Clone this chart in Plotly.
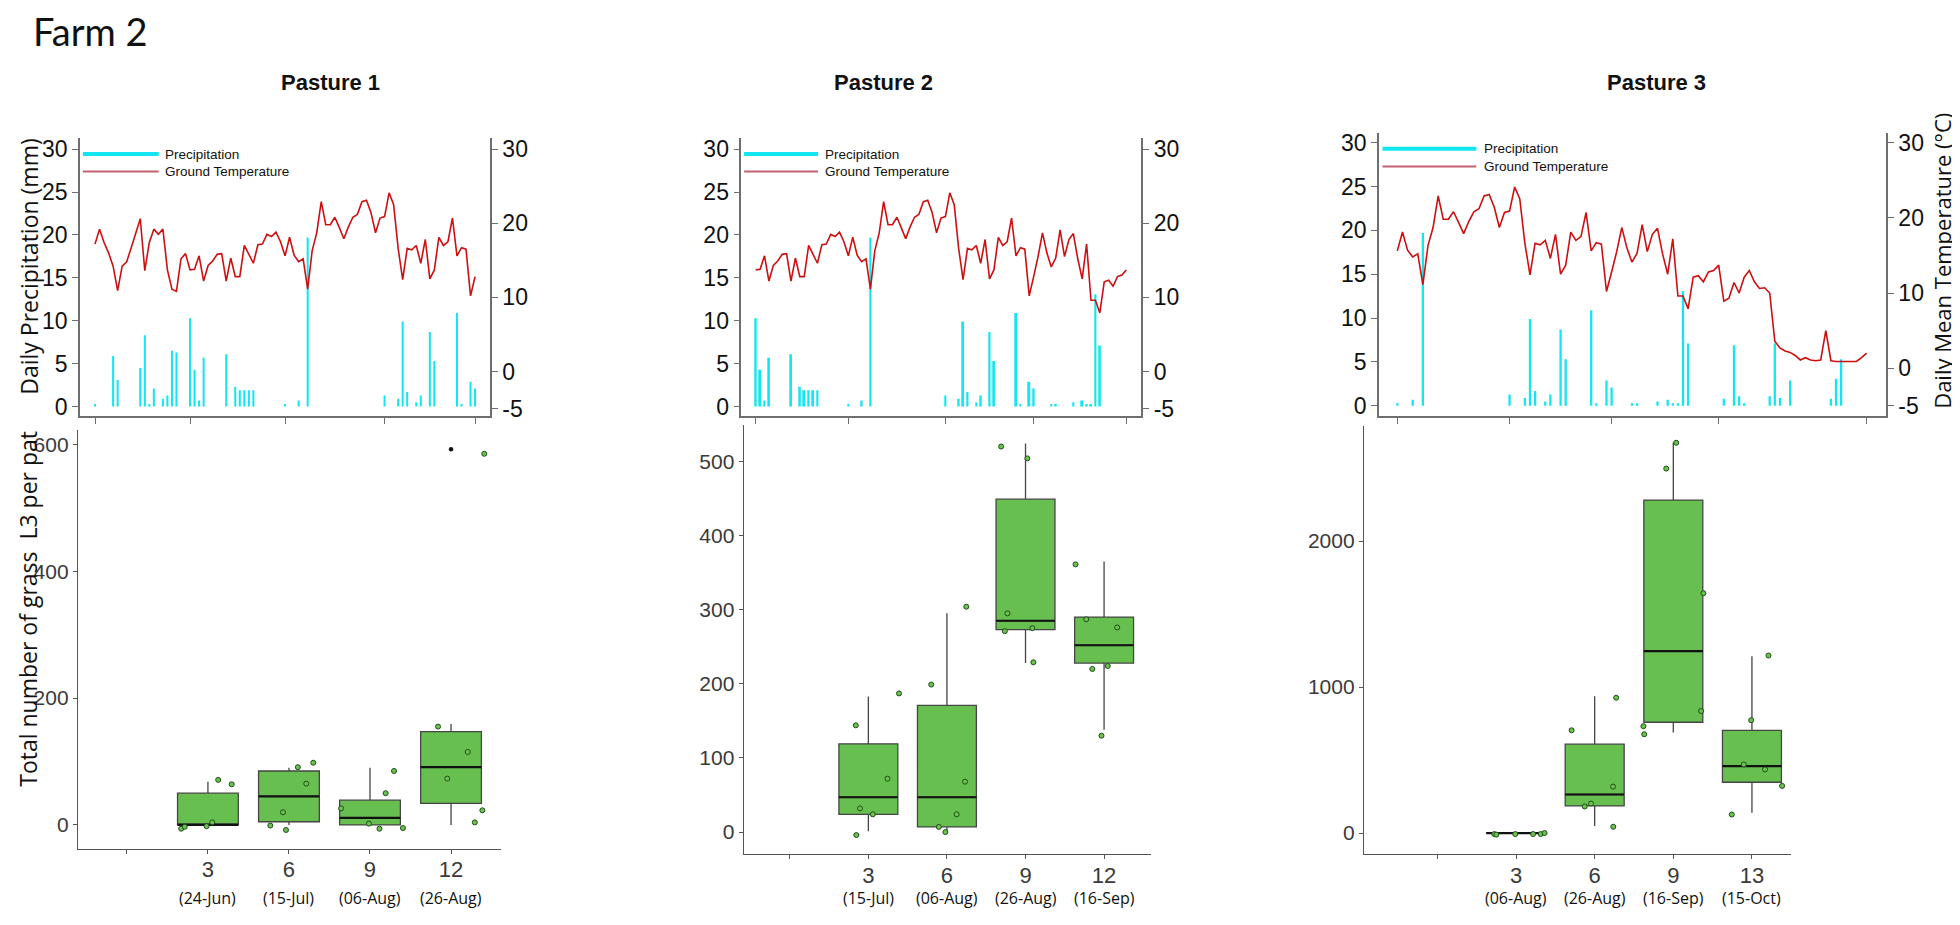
import plotly.graph_objects as go

# ---------------- data ----------------
# daily series, day 0 = 03-Jun
ground_temp_c = [17.2, 19.2, 17.4, 16.0, 14.2, 10.9, 14.2, 14.8, 16.7, 18.7,
                 20.6, 13.6, 17.4, 19.2, 18.5, 19.2, 13.7, 11.1, 10.8, 15.2,
                 15.9, 13.7, 13.8, 15.6, 12.2, 14.3, 14.9, 15.8, 15.9, 12.2,
                 15.3, 12.8, 12.8, 17.0, 15.9, 14.6, 17.1, 17.2, 18.5, 18.2,
                 18.8, 17.5, 15.6, 18.1, 15.7, 14.8, 15.2, 11.1, 16.3, 18.7,
                 22.9, 19.8, 19.8, 20.8, 19.4, 17.9, 19.5, 20.8, 21.2, 22.9,
                 23.1, 21.4, 18.7, 20.7, 20.9, 24.1, 22.5, 16.6, 12.4, 16.6,
                 16.4, 17.0, 14.6, 17.8, 12.5, 13.7, 18.1, 17.0, 17.5, 20.7,
                 15.6, 16.7, 16.5, 10.2, 12.8, 15.5, 18.7, 16.0, 14.1, 15.3,
                 19.1, 15.5, 17.8, 18.6, 15.2, 12.5, 17.2, 9.6, 9.6, 7.9,
                 12.1, 12.3, 11.5, 12.8, 13.0, 13.7, 8.9, 9.3, 11.4, 10.0,
                 12.1, 13.0, 11.5, 10.6, 10.7, 10.0, 3.6, 2.7, 2.3, 2.1,
                 1.7, 1.1, 1.4, 1.1, 1.0, 1.1, 5.0, 1.0, 0.9, 0.9,
                 0.9, 0.8, 0.9, 1.4, 2.0]

precip_day = [0, 4, 5, 10, 11, 12, 13, 15, 16, 17, 18, 21, 22, 23, 24, 29, 31, 32, 33, 34,
              35, 42, 45, 47, 64, 67, 68, 69, 71, 72, 74, 75, 80, 81, 83, 84, 88, 89, 93, 95,
              96, 97, 98, 99, 106, 108, 109, 110, 115, 116, 117, 119, 127, 128, 129]
precip_mm = [0.3, 5.9, 3.1, 4.5, 8.3, 0.3, 2.1, 0.9, 1.3, 6.5, 6.3, 10.3, 4.3, 0.7, 5.7, 6.1, 2.3, 1.9, 1.9, 1.9,
             1.9, 0.3, 0.7, 19.7, 1.3, 0.9, 9.9, 1.7, 0.5, 1.3, 8.7, 5.3, 10.9, 0.3, 2.9, 2.1, 0.3, 0.3, 0.5, 0.7,
             0.3, 0.3, 13.1, 7.1, 0.8, 6.9, 1.1, 0.3, 1.1, 7.1, 0.9, 2.9, 0.8, 3.1, 5.3]

pasture_names = ["Pasture 1", "Pasture 2", "Pasture 3"]
window_first_day = [0, 21, 42]
window_last_day = [84, 105, 134]
sampling_days = [[0, 21, 42, 64, 84], [21, 42, 64, 84, 105], [42, 64, 84, 105, 134]]

box_pos = [3, 6, 9, 12]
week_labels = [["3", "6", "9", "12"], ["3", "6", "9", "12"], ["3", "6", "9", "13"]]
date_labels = [["(24-Jun)", "(15-Jul)", "(06-Aug)", "(26-Aug)"],
               ["(15-Jul)", "(06-Aug)", "(26-Aug)", "(16-Sep)"],
               ["(06-Aug)", "(26-Aug)", "(16-Sep)", "(15-Oct)"]]

l3_q1 = [[0, 5, 0, 34], [24, 7, 273, 228], [0, 186, 759, 348]]
l3_median = [[0, 45, 11, 91], [47, 47, 285, 252], [0, 264, 1247, 459]]
l3_q3 = [[50, 85, 39, 147], [119, 171, 449, 290], [3, 609, 2281, 704]]
l3_low = [[0, 0, 0, 0], [1, 1, 228, 138], [0, 48, 688, 139]]
l3_high = [[68, 90, 90, 159], [183, 295, 524, 365], [3, 938, 2676, 1211]]

# jittered individual pats
pat_x = [
    [2.01, 2.14, 2.95, 3.16, 3.38, 3.88, 5.31, 5.78, 5.89, 6.33, 6.64, 6.90,
     7.93, 8.96, 9.35, 9.58, 9.89, 10.22, 11.52, 11.86, 12.62, 12.88, 13.16, 13.23],
    [2.52, 2.54, 2.68, 3.17, 3.73, 4.17, 5.40, 5.69, 5.94, 6.37, 6.69, 6.74,
     8.07, 8.21, 8.31, 9.07, 9.26, 9.30, 10.91, 11.32, 11.55, 11.90, 12.14, 12.50],
    [2.17, 2.25, 2.97, 3.65, 3.94, 4.09, 5.12, 5.62, 5.86, 6.70, 6.71, 6.82,
     7.86, 7.89, 8.73, 9.11, 10.06, 10.15, 11.23, 11.69, 11.97, 12.50, 12.63, 13.15]]
pat_y = [
    [-6, -3, -2, 4, 71, 64, -1, 20, -8, 91, 65, 98,
     26, 2, -6, 50, 85, -5, 155, 73, 115, 4, 23, 585],
    [144, -4, 32, 24, 72, 187, 199, 7, 0, 24, 68, 304,
     520, 271, 295, 504, 275, 229, 361, 287, 220, 130, 224, 276],
    [-7, -11, -7, -7, -7, 0, 704, 182, 202, 318, 43, 927,
     732, 677, 2497, 2674, 836, 1643, 127, 470, 773, 436, 1216, 323]]
outlier_x = [[12], [], []]
outlier_y = [[592], [], []]

# ---------------- layout geometry (pixels) ----------------
W, H = 1960, 925
def fx(px): return px / W
def fy(py): return 1 - py / H

top_x_px = [(72, 482), (733.3, 1133.3), (1371, 1878)]
top_y_px = [(128.3, 409), (128.3, 409), (122.7, 408.3)]
top_xrange = [(-3.32, 87.3), (17.74, 108.4), (38.4, 137.8)]
prec_range = [(-1.155, 31.27), (-1.155, 31.27), (-1.13, 31.13)]
temp_range = [(-6.07, 31.47), (-6.07, 31.47), (-6.32, 31.32)]

low_x_px = [(70, 493), (735.7, 1142.7), (1356, 1783)]
low_y_px = [(423, 845), (418, 850.7), (418.3, 850.7)]
low_xrange = [(-1.81, 13.85), (-1.76, 13.78), (-2.80, 13.49)]
low_yrange = [(-37.5, 622), (-30, 548.5), (-146, 2791)]
low_ticks = [[0, 200, 400, 600], [0, 100, 200, 300, 400, 500], [0, 1000, 2000]]

NARROW = "Liberation Sans Narrow, Arial Narrow, Liberation Sans, Arial"
ARIAL = "Liberation Sans, Arial"
HUMAN = "Open Sans, Noto Sans, sans-serif"
BOX_W = 2.25
AXIS_GRAY = "#6e6e6e"

fig = go.Figure()
layout = dict(width=W, height=H, margin=dict(l=0, r=0, t=0, b=0),
              paper_bgcolor="white", plot_bgcolor="white", showlegend=False)
annotations = []
shapes = []

for i in range(3):
    xn = "x" if i == 0 else f"x{i+1}"
    yp = f"y{2*i+1}" if i > 0 else "y"
    yt = f"y{2*i+2}"
    d0, d1 = window_first_day[i], window_last_day[i]
    days = list(range(d0, d1 + 1))
    temps = ground_temp_c[d0:d1 + 1]
    bx = [d for d in precip_day if d0 <= d <= d1]
    by = [m for d, m in zip(precip_day, precip_mm) if d0 <= d <= d1]

    fig.add_trace(go.Bar(x=bx, y=by, width=0.45, marker=dict(color="#12E6F0", line=dict(width=0)),
                         xaxis=xn, yaxis=yp, name="Precipitation"))
    fig.add_trace(go.Scatter(x=days, y=temps, mode="lines", line=dict(color="#CC1010", width=1.6),
                             xaxis=xn, yaxis=yt, name="Ground Temperature"))

    xk = "xaxis" if i == 0 else f"xaxis{i+1}"
    ypk = "yaxis" if i == 0 else f"yaxis{2*i+1}"
    ytk = f"yaxis{2*i+2}"
    layout[xk] = dict(domain=[fx(top_x_px[i][0]), fx(top_x_px[i][1])], range=list(top_xrange[i]),
                      anchor=yp, showgrid=False, zeroline=False, showline=True, linecolor=AXIS_GRAY,
                      linewidth=1.5, ticks="outside", ticklen=6, tickcolor=AXIS_GRAY, tickwidth=1.2,
                      tickvals=sampling_days[i], showticklabels=False, fixedrange=True)
    layout[ypk] = dict(domain=[fy(top_y_px[i][1]), fy(top_y_px[i][0])], range=list(prec_range[i]),
                       anchor=xn, showgrid=False, zeroline=False, showline=True, linecolor=AXIS_GRAY,
                       linewidth=1.5, ticks="outside", ticklen=6, tickcolor=AXIS_GRAY, tickwidth=1.2,
                       tickvals=[0, 5, 10, 15, 20, 25, 30],
                       tickfont=dict(family=NARROW, size=23, color="#111111"))
    layout[ytk] = dict(range=list(temp_range[i]), overlaying=yp, side="right", anchor=xn,
                       showgrid=False, zeroline=False, showline=True, linecolor=AXIS_GRAY,
                       linewidth=1.5, ticks="outside", ticklen=6, tickcolor=AXIS_GRAY, tickwidth=1.2,
                       tickvals=[-5, 0, 10, 20, 30], ticktext=["-5", "0", "10", "20", "30"],
                       tickfont=dict(family=NARROW, size=23, color="#111111"))

    # in-panel legend
    shapes.append(dict(type="line", xref=f"{xn} domain", yref=f"{yp} domain",
                       x0=0.007, x1=0.192, y0=0.943, y1=0.943,
                       line=dict(color="#12E6F0", width=4)))
    shapes.append(dict(type="line", xref=f"{xn} domain", yref=f"{yp} domain",
                       x0=0.007, x1=0.192, y0=0.880, y1=0.880,
                       line=dict(color="#C4606F", width=2)))
    annotations.append(dict(text="Precipitation", xref=f"{xn} domain", yref=f"{yp} domain",
                            x=0.203, y=0.943, xanchor="left", yanchor="middle", showarrow=False,
                            font=dict(family=NARROW, size=13.5, color="#111111")))
    annotations.append(dict(text="Ground Temperature", xref=f"{xn} domain", yref=f"{yp} domain",
                            x=0.203, y=0.880, xanchor="left", yanchor="middle", showarrow=False,
                            font=dict(family=NARROW, size=13.5, color="#111111")))

    # ---- lower panel ----
    lx = f"x{i+4}"
    ly = f"y{i+7}"
    fig.add_trace(go.Box(x=box_pos, q1=l3_q1[i], median=l3_median[i], q3=l3_q3[i],
                         lowerfence=l3_low[i], upperfence=l3_high[i], width=BOX_W,
                         boxpoints=False, whiskerwidth=0, fillcolor="#67BF50",
                         line=dict(color="#454545", width=1.3), xaxis=lx, yaxis=ly))
    mx, my = [], []
    for p, m in zip(box_pos, l3_median[i]):
        mx += [p - BOX_W / 2, p + BOX_W / 2, None]
        my += [m, m, None]
    fig.add_trace(go.Scatter(x=mx, y=my, mode="lines", line=dict(color="#111111", width=2.2),
                             xaxis=lx, yaxis=ly, hoverinfo="skip"))
    fig.add_trace(go.Scatter(x=pat_x[i], y=pat_y[i], mode="markers",
                             marker=dict(size=5, color="#6DC24F", line=dict(color="#1E4D1A", width=1)),
                             xaxis=lx, yaxis=ly))
    if outlier_x[i]:
        fig.add_trace(go.Scatter(x=outlier_x[i], y=outlier_y[i], mode="markers",
                                 marker=dict(size=4.5, color="#111111"), xaxis=lx, yaxis=ly))

    layout[f"xaxis{i+4}"] = dict(domain=[fx(low_x_px[i][0]), fx(low_x_px[i][1])], range=list(low_xrange[i]),
                                 anchor=ly, showgrid=False, zeroline=False, showline=True,
                                 linecolor="#555555", linewidth=1.3, ticks="outside", ticklen=4,
                                 tickcolor="#555555", tickwidth=1, ticklabelstandoff=-3,
                                 tickvals=[0] + box_pos, ticktext=[""] + week_labels[i],
                                 tickfont=dict(family=ARIAL, size=22, color="#3a3a3a"))
    layout[f"yaxis{i+7}"] = dict(domain=[fy(low_y_px[i][1]), fy(low_y_px[i][0])], range=list(low_yrange[i]),
                                 anchor=lx, showgrid=False, zeroline=False, showline=True,
                                 linecolor="#555555", linewidth=1.3, ticks="outside", ticklen=4,
                                 tickcolor="#555555", tickwidth=1, tickvals=low_ticks[i],
                                 tickfont=dict(family=ARIAL, size=21, color="#3a3a3a"))
    for p, dl in zip(box_pos, date_labels[i]):
        annotations.append(dict(text=dl, xref=lx, yref="paper", x=p, y=fy(895),
                                xanchor="center", yanchor="middle", showarrow=False,
                                font=dict(family=HUMAN, size=16, color="#111111")))

# titles
pasture_center_px = [322, 875, 1648]
for name, cx in zip(pasture_names, pasture_center_px):
    annotations.append(dict(text=f"<b>{name}</b>", xref="paper", yref="paper", x=fx(cx), y=fy(72),
                            xanchor="center", yanchor="middle", showarrow=False,
                            font=dict(family=ARIAL, size=22, color="#111111")))
annotations.append(dict(text="Farm 2", xref="paper", yref="paper", x=fx(23), y=fy(20),
                        xanchor="left", yanchor="middle", showarrow=False,
                        font=dict(family="Lato, Open Sans", size=38, color="#111111")))
annotations.append(dict(text="Daily Precipitation (mm)", xref="paper", yref="paper", x=fx(21), y=fy(258),
                        xanchor="center", yanchor="middle", textangle=-90, showarrow=False,
                        font=dict(family=HUMAN, size=23, color="#111111")))
annotations.append(dict(text="Total number of grass\u00a0 L3 per pat", xref="paper", yref="paper",
                        x=fx(20), y=fy(603), xanchor="center", yanchor="middle", textangle=-90,
                        showarrow=False, font=dict(family=HUMAN, size=23, color="#111111")))
annotations.append(dict(text="Daily Mean Temperature (°C)", xref="paper", yref="paper",
                        x=fx(1934), y=fy(252), xanchor="center", yanchor="middle", textangle=-90,
                        showarrow=False, font=dict(family=HUMAN, size=22, color="#111111")))

layout["annotations"] = annotations
layout["shapes"] = shapes
fig.update_layout(**layout)
fig.write_html("out.html")
